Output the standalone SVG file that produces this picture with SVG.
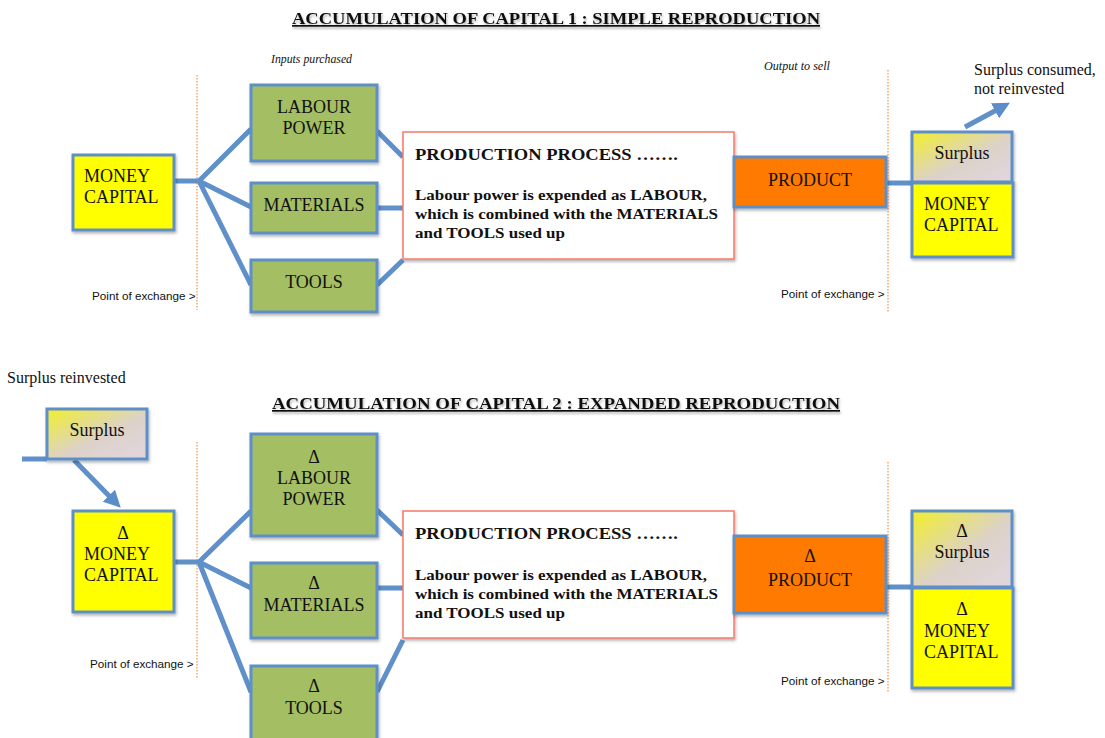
<svg xmlns="http://www.w3.org/2000/svg" width="1105" height="738" viewBox="0 0 1105 738">
<defs>
<filter id="sh" x="-10%" y="-10%" width="130%" height="140%">
<feDropShadow dx="1" dy="2" stdDeviation="1.5" flood-color="#000" flood-opacity="0.3"/>
</filter>
<filter id="tsh" x="-5%" y="-20%" width="110%" height="160%">
<feDropShadow dx="1" dy="2" stdDeviation="1" flood-color="#000" flood-opacity="0.3"/>
</filter>
<linearGradient id="surp" x1="0" y1="0" x2="1" y2="1">
<stop offset="0" stop-color="#F2EF2A"/>
<stop offset="0.55" stop-color="#DCD2C8"/>
<stop offset="1" stop-color="#E2D6E0"/>
</linearGradient>
<marker id="ah" viewBox="0 0 10 10" refX="6" refY="5" markerWidth="3.4" markerHeight="3.4" orient="auto" markerUnits="strokeWidth">
<path d="M0,0 L10,5 L0,10 Z" fill="#5B8EC8"/>
</marker>
<style>
.box{stroke:#5F8FC6;stroke-width:3;filter:url(#sh)}
.yel{fill:#FFFF00}
.grn{fill:#A3BE64}
.org{fill:#FF7A00}
.sur{fill:url(#surp)}
.proc{fill:#fff;stroke:#F47A6C;stroke-width:1.5;filter:url(#sh)}
.t{font-family:"Liberation Serif",serif;font-size:18px;fill:#111}
.c{text-anchor:middle}
.pb{font-family:"Liberation Serif",serif;font-weight:bold;fill:#111}
.title{font-family:"Liberation Serif",serif;font-weight:bold;font-size:17px;fill:#111;text-anchor:middle;text-decoration:underline;filter:url(#tsh)}
.it{font-family:"Liberation Serif",serif;font-style:italic;font-size:12px;fill:#111}
.poe{font-family:"Liberation Sans",sans-serif;font-size:11.7px;fill:#111}
.ann{font-family:"Liberation Serif",serif;font-size:16px;fill:#111}
.con{stroke:#5F90CA;stroke-width:5;fill:none;stroke-linecap:butt}
.dash{stroke:#F0904A;stroke-width:1.2;stroke-dasharray:1.5 1.5}
</style>
</defs>
<rect width="1105" height="738" fill="#fff"/>

<!-- Titles and labels -->
<text class="title" x="556" y="24" textLength="528" lengthAdjust="spacingAndGlyphs">ACCUMULATION OF CAPITAL 1 : SIMPLE REPRODUCTION</text>
<text class="it" x="271" y="63" textLength="81" lengthAdjust="spacingAndGlyphs">Inputs purchased</text>
<text class="it" x="764" y="70" textLength="66" lengthAdjust="spacingAndGlyphs">Output to sell</text>
<text class="ann" x="974" y="75">Surplus consumed,</text>
<text class="ann" x="974" y="94">not reinvested</text>
<text class="poe" x="92" y="300">Point of exchange &gt;</text>
<text class="poe" x="781" y="298">Point of exchange &gt;</text>
<line x1="67" y1="331" x2="1090" y2="331" stroke="#8E2A8C" stroke-width="3" filter="url(#tsh)"/>
<text class="ann" x="7" y="383">Surplus reinvested</text>
<text class="title" x="556" y="409" textLength="568" lengthAdjust="spacingAndGlyphs">ACCUMULATION OF CAPITAL 2 : EXPANDED REPRODUCTION</text>
<text class="poe" x="90" y="668">Point of exchange &gt;</text>
<text class="poe" x="781" y="685">Point of exchange &gt;</text>

<!-- dashed exchange lines -->
<line class="dash" x1="197" y1="75" x2="197" y2="310"/>
<line class="dash" x1="888" y1="70" x2="888" y2="312"/>
<line class="dash" x1="197" y1="442" x2="197" y2="678"/>
<line class="dash" x1="888" y1="462" x2="888" y2="692"/>

<!-- connectors -->
<g id="connectors">
<path class="con" d="M174,181 H199 L251,129 M199,181 L251,207 M199,181 L251,285"/>
<path class="con" d="M377,131 L403,157 M377,208 H403 M377,285 L403,260"/>
<path class="con" d="M886,183 H912"/>
<line class="con" x1="965" y1="127" x2="1004" y2="106" marker-end="url(#ah)"/>
<path class="con" d="M174,562 H199 L251,511 M199,562 L251,588 M199,562 L251,692"/>
<path class="con" d="M377,510 L403,535 M377,588 H403 M377,692 L403,640"/>
<path class="con" d="M886,587 H912"/>
<path class="con" d="M22,459 H47"/>
<line class="con" x1="74" y1="460" x2="116" y2="503" marker-end="url(#ah)"/>
</g>

<!-- Diagram 1 -->
<g id="money1">
<rect class="box yel" x="73" y="155" width="101" height="75"/>
<text class="t" x="84" y="182">MONEY</text>
<text class="t" x="84" y="203">CAPITAL</text>
</g>
<g id="labour1">
<rect class="box grn" x="251" y="85" width="126" height="76"/>
<text class="t c" x="314" y="113">LABOUR</text>
<text class="t c" x="314" y="134">POWER</text>
</g>
<g id="materials1">
<rect class="box grn" x="251" y="183" width="126" height="50"/>
<text class="t c" x="314" y="211">MATERIALS</text>
</g>
<g id="tools1">
<rect class="box grn" x="251" y="260" width="126" height="52"/>
<text class="t c" x="314" y="288">TOOLS</text>
</g>
<g id="process1">
<rect class="proc" x="403" y="132" width="331" height="127"/>
<text class="pb" x="415" y="160" font-size="17" textLength="263" lengthAdjust="spacingAndGlyphs">PRODUCTION PROCESS …….</text>
<text class="pb" x="415" y="200" font-size="15.5" textLength="292" lengthAdjust="spacingAndGlyphs">Labour power is expended as LABOUR,</text>
<text class="pb" x="415" y="219" font-size="15.5" textLength="303" lengthAdjust="spacingAndGlyphs">which is combined with the MATERIALS</text>
<text class="pb" x="415" y="238" font-size="15.5" textLength="150" lengthAdjust="spacingAndGlyphs">and TOOLS used up</text>
</g>
<g id="product1">
<rect class="box org" x="734" y="157" width="152" height="50"/>
<text class="t c" x="810" y="186">PRODUCT</text>
</g>
<g id="surplus1">
<rect class="box sur" x="912" y="132" width="100" height="50"/>
<text class="t c" x="962" y="159" font-size="15">Surplus</text>
</g>
<g id="money1b">
<rect class="box yel" x="912" y="183" width="101" height="74"/>
<text class="t" x="924" y="210">MONEY</text>
<text class="t" x="924" y="231">CAPITAL</text>
</g>

<!-- Diagram 2 -->
<g id="surplus2in">
<rect class="box sur" x="47" y="409" width="100" height="50"/>
<text class="t c" x="97" y="436" font-size="15">Surplus</text>
</g>
<g id="money2">
<rect class="box yel" x="73" y="511" width="101" height="101"/>
<text class="t c" x="123" y="539">Δ</text>
<text class="t" x="84" y="560">MONEY</text>
<text class="t" x="84" y="581">CAPITAL</text>
</g>
<g id="labour2">
<rect class="box grn" x="251" y="434" width="126" height="102"/>
<text class="t c" x="314" y="463">Δ</text>
<text class="t c" x="314" y="484">LABOUR</text>
<text class="t c" x="314" y="505">POWER</text>
</g>
<g id="materials2">
<rect class="box grn" x="251" y="563" width="126" height="75"/>
<text class="t c" x="314" y="589">Δ</text>
<text class="t c" x="314" y="611">MATERIALS</text>
</g>
<g id="tools2">
<rect class="box grn" x="251" y="666" width="126" height="80"/>
<text class="t c" x="314" y="692">Δ</text>
<text class="t c" x="314" y="714">TOOLS</text>
</g>
<g id="process2">
<rect class="proc" x="403" y="511" width="331" height="127"/>
<text class="pb" x="415" y="539" font-size="17" textLength="263" lengthAdjust="spacingAndGlyphs">PRODUCTION PROCESS …….</text>
<text class="pb" x="415" y="580" font-size="15.5" textLength="292" lengthAdjust="spacingAndGlyphs">Labour power is expended as LABOUR,</text>
<text class="pb" x="415" y="599" font-size="15.5" textLength="303" lengthAdjust="spacingAndGlyphs">which is combined with the MATERIALS</text>
<text class="pb" x="415" y="618" font-size="15.5" textLength="150" lengthAdjust="spacingAndGlyphs">and TOOLS used up</text>
</g>
<g id="product2">
<rect class="box org" x="734" y="536" width="152" height="77"/>
<text class="t c" x="810" y="562">Δ</text>
<text class="t c" x="810" y="586">PRODUCT</text>
</g>
<g id="surplus2">
<rect class="box sur" x="912" y="511" width="100" height="76"/>
<text class="t c" x="962" y="537" font-size="15">Δ</text>
<text class="t c" x="962" y="558" font-size="15">Surplus</text>
</g>
<g id="money2b">
<rect class="box yel" x="912" y="588" width="101" height="100"/>
<text class="t c" x="962" y="615">Δ</text>
<text class="t" x="924" y="637">MONEY</text>
<text class="t" x="924" y="658">CAPITAL</text>
</g>
</svg>
